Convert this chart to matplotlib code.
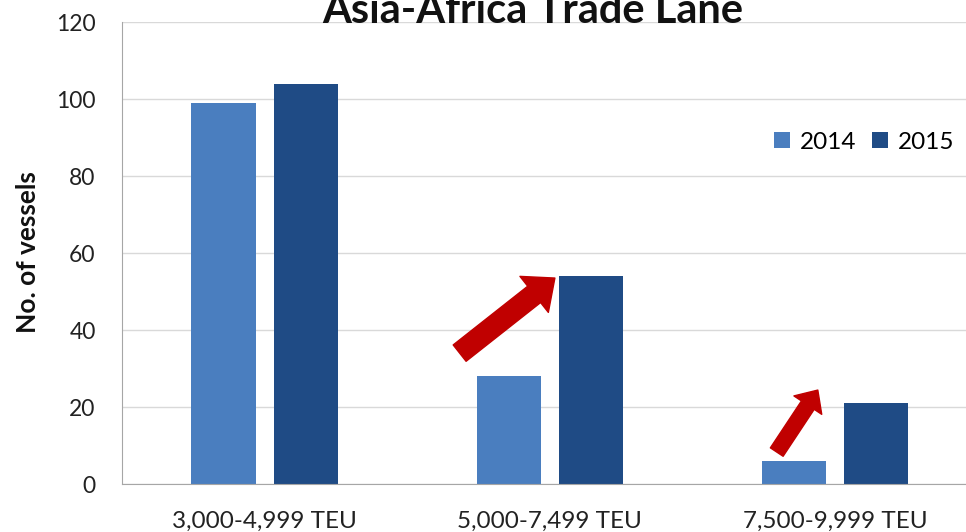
import matplotlib
matplotlib.use("Agg")
import matplotlib.pyplot as plt
import numpy as np
from matplotlib.patches import FancyArrowPatch

# Data
categories = ["3,000-4,999 TEU", "5,000-7,499 TEU", "7,500-9,999 TEU"]
series_names = ["2014", "2015"]
vessels_2014 = [99, 28, 6]
vessels_2015 = [104, 54, 21]
y_ticks = [0, 20, 40, 60, 80, 100, 120]

c2014 = "#4a7ebf"
c2015 = "#1f4b85"
red = "#c00000"

plt.rcParams["font.family"] = ["Lato", "DejaVu Sans"]

fig = plt.figure(figsize=(9.66, 5.32), dpi=100)
ax = fig.add_axes([0.1263, 0.0902, 0.8856, 0.8684])

x = np.arange(len(categories))
w = 0.225
off = 0.144
ax.bar(x - off, vessels_2014, width=w, color=c2014, label=series_names[0], zorder=3)
ax.bar(x + off, vessels_2015, width=w, color=c2015, label=series_names[1], zorder=3)

ax.set_xlim(-0.5, 2.5)
ax.set_ylim(0, 120)
ax.set_yticks(y_ticks)
ax.set_xticks(x)
ax.set_xticklabels(categories, fontsize=17.5, color="#222222")
ax.tick_params(axis="y", labelsize=16.5, length=0, pad=19, labelcolor="#222222")
ax.tick_params(axis="x", length=0, pad=19)
ax.grid(axis="y", color="#d9d9d9", linewidth=1, zorder=0)
for s in ["top", "right"]:
    ax.spines[s].set_visible(False)
ax.spines["left"].set_color("#a6a6a6")
ax.spines["bottom"].set_color("#a6a6a6")
ax.spines["bottom"].set_zorder(4)

fig.text(28 / 966, 0.5254, "No. of vessels", rotation=90, ha="center", va="center",
         fontsize=19, fontweight="bold", color="#111111")

fig.text(533 / 966, 1 - 23 / 532, "Asia-Africa Trade Lane", ha="center", va="baseline",
         fontsize=30, fontweight="bold", color="#111111")

leg = fig.legend(loc="center", bbox_to_anchor=(864.5 / 966, 1 - 142 / 532), ncol=2,
                 frameon=False, fontsize=17.5, handlelength=0.65, handleheight=0.65,
                 handletextpad=0.42, columnspacing=0.63)

# Growth arrows
a1 = FancyArrowPatch((0.684, 34), (1.018, 53.5),
                     arrowstyle="simple,head_length=19,head_width=33,tail_width=15",
                     mutation_scale=1, color=red, shrinkA=0, shrinkB=0, zorder=5)
a2 = FancyArrowPatch((1.796, 8.3), (1.94, 24.4),
                     arrowstyle="simple,head_length=13,head_width=24,tail_width=11",
                     mutation_scale=1, color=red, shrinkA=0, shrinkB=0, zorder=5)
ax.add_patch(a1)
ax.add_patch(a2)

fig.savefig("out.png", dpi=100)
